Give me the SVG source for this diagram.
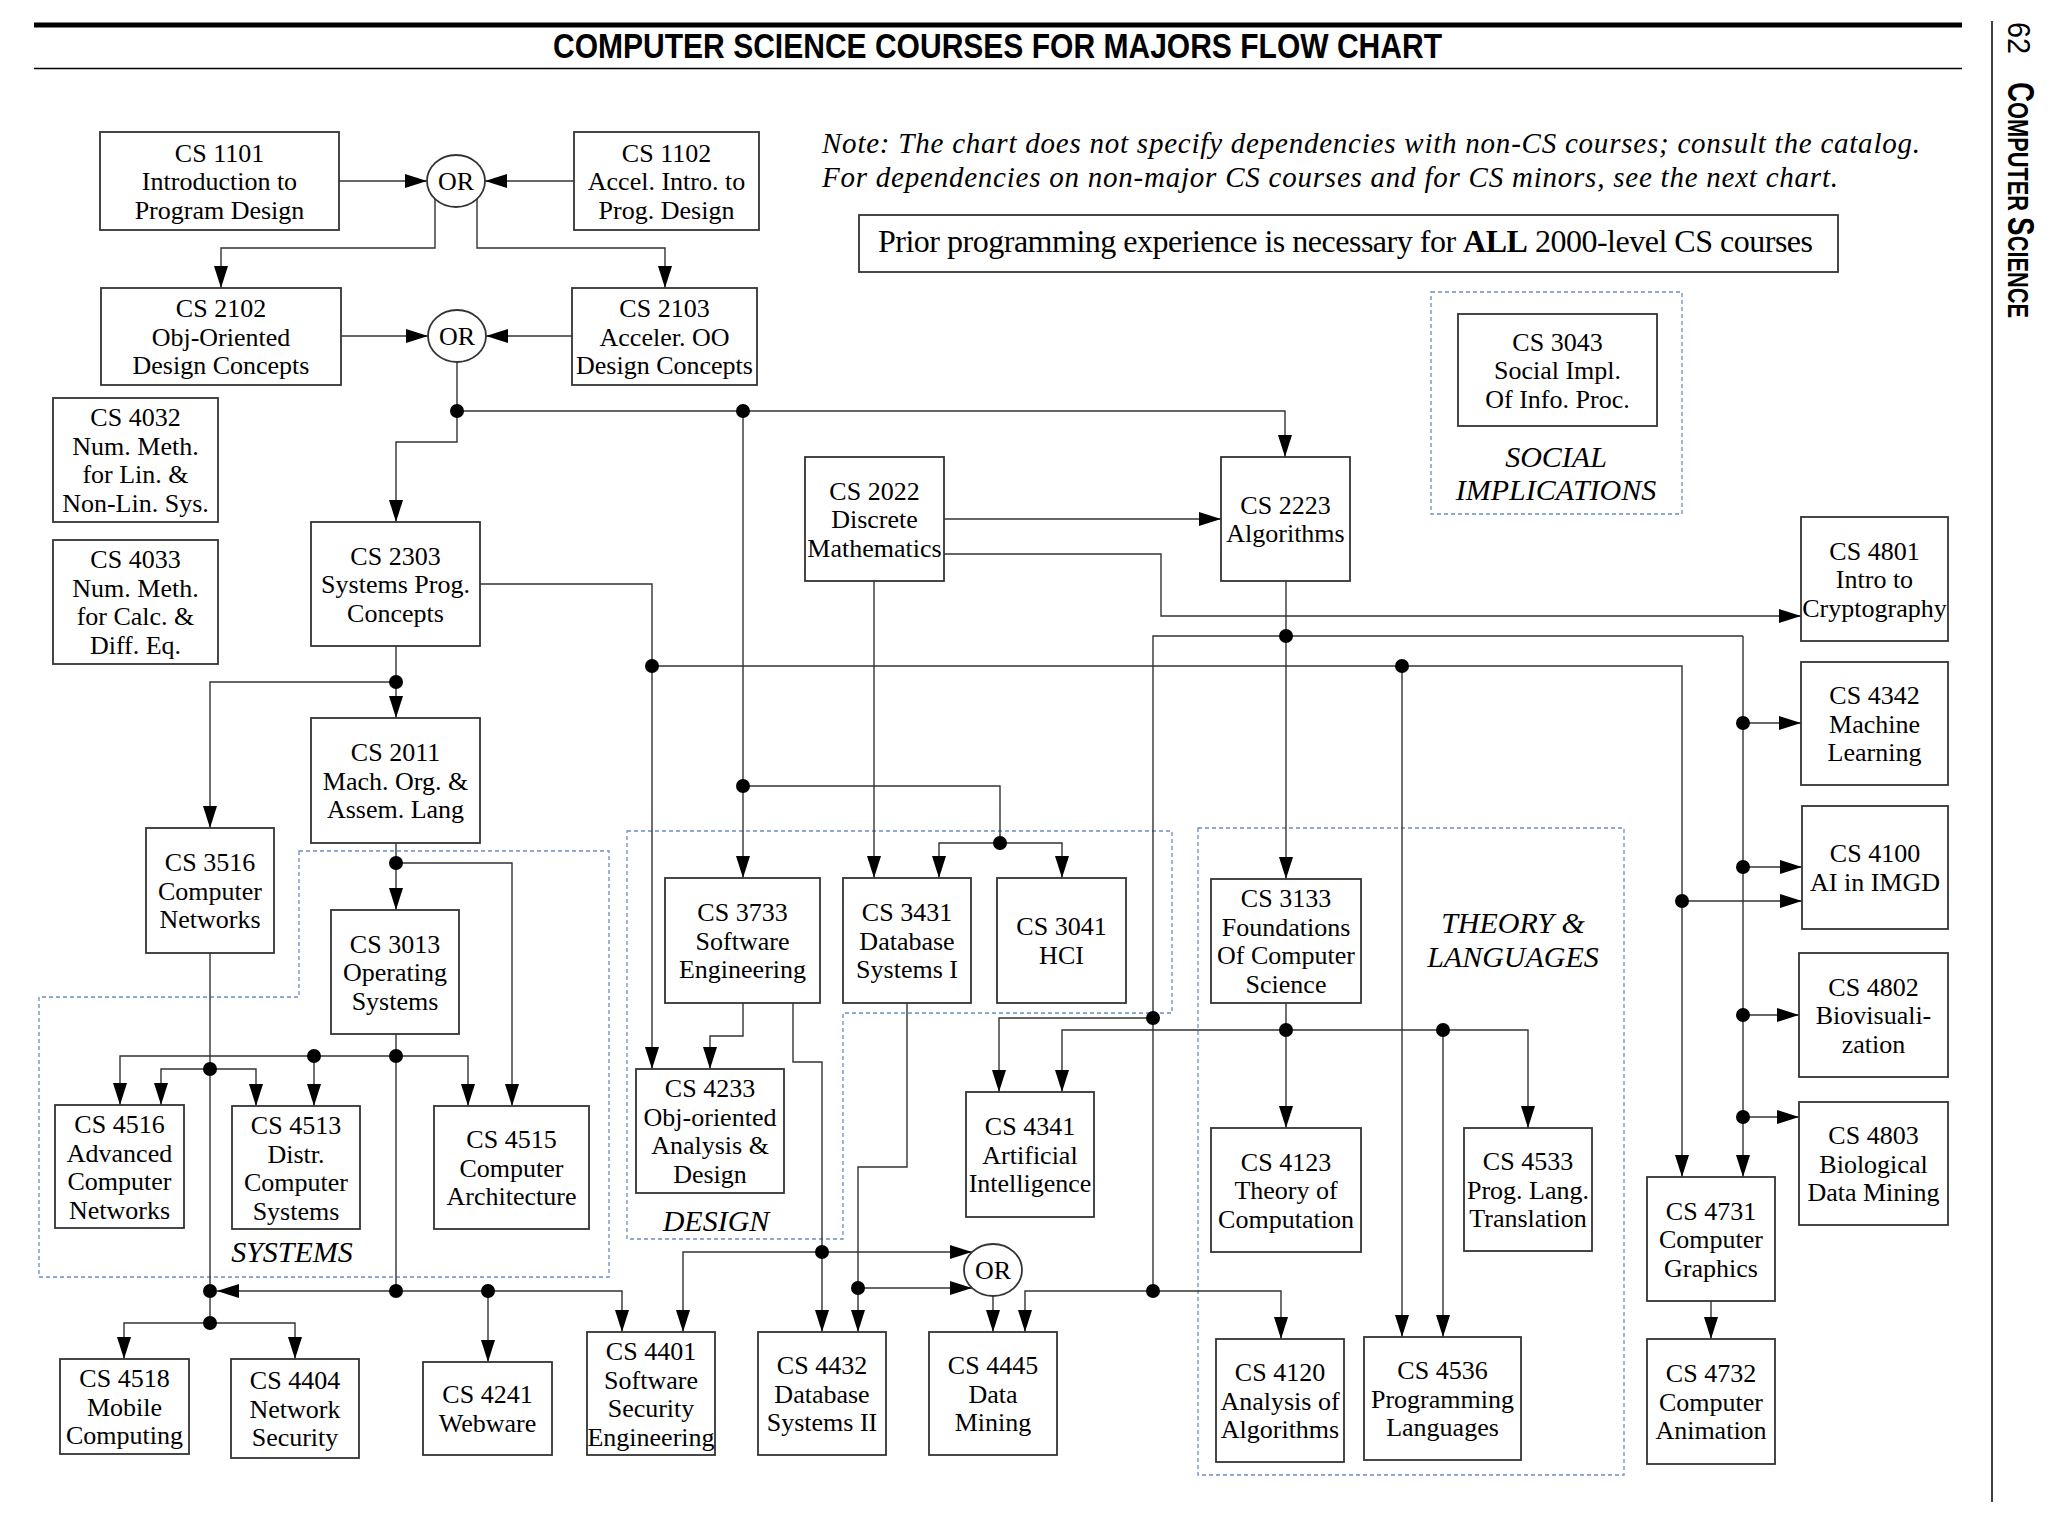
<svg xmlns="http://www.w3.org/2000/svg" width="2071" height="1522" viewBox="0 0 2071 1522">
<defs>
<marker id="ah" markerUnits="userSpaceOnUse" markerWidth="22" markerHeight="14" refX="22" refY="7" orient="auto"><path d="M0,0L22,7L0,14z" fill="#000"/></marker>
<style>
.box{fill:#fff;stroke:#333;stroke-width:1.8}
.t{font-family:"Liberation Serif","Times New Roman",serif;font-size:26px;text-anchor:middle;fill:#000}
.ln{fill:none;stroke:#333;stroke-width:1.4}
.ar{fill:none;stroke:#333;stroke-width:1.4;marker-end:url(#ah)}
.dot{fill:#000}
.reg{fill:none;stroke:#6b8fc4;stroke-width:1.3;stroke-dasharray:4 3}
.lbl{font-family:"Liberation Serif","Times New Roman",serif;font-size:30px;font-style:italic;text-anchor:middle;fill:#000}
.or{fill:#fff;stroke:#333;stroke-width:1.8}
</style>
</defs>
<rect width="2071" height="1522" fill="#fff"/>
<!-- header -->
<g id="header">
<rect x="34" y="22.5" width="1928" height="5" fill="#000"/>
<line x1="34" y1="68.5" x2="1962" y2="68.5" stroke="#000" stroke-width="1.4"/>
<text x="553" y="58" font-family="Liberation Sans,Arial,sans-serif" font-weight="bold" font-size="35" textLength="889" lengthAdjust="spacingAndGlyphs">COMPUTER SCIENCE COURSES FOR MAJORS FLOW CHART</text>
<line x1="1992" y1="21" x2="1992" y2="1502" stroke="#000" stroke-width="1.5"/>
<text transform="translate(2008,22) rotate(90)" font-family="Liberation Sans,Arial,sans-serif" font-size="32" textLength="32" lengthAdjust="spacingAndGlyphs">62</text>
<text transform="translate(2008,82) rotate(90)" font-family="Liberation Sans,Arial,sans-serif" font-weight="bold" textLength="236" lengthAdjust="spacingAndGlyphs"><tspan font-size="37">C</tspan><tspan font-size="29">OMPUTER </tspan><tspan font-size="37">S</tspan><tspan font-size="29">CIENCE</tspan></text>
</g>
<g id="notes">
<text x="822" y="153" font-family="Liberation Serif,Times New Roman,serif" font-style="italic" font-size="29" textLength="1098">Note: The chart does not specify dependencies with non-CS courses; consult the catalog.</text>
<text x="822" y="187" font-family="Liberation Serif,Times New Roman,serif" font-style="italic" font-size="29" textLength="1016">For dependencies on non-major CS courses and for CS minors, see the next chart.</text>
<rect x="859" y="215" width="979" height="57" class="box"/>
<text x="878" y="252" font-family="Liberation Serif,Times New Roman,serif" font-size="32" textLength="935">Prior programming experience is necessary for <tspan font-weight="bold">ALL</tspan> 2000-level CS courses</text>
</g>
<!-- regions -->
<g id="regions">
<rect x="1431" y="292" width="251" height="222" class="reg"/>
<polygon points="299,851 609,851 609,1277 39,1277 39,997 299,997" class="reg"/>
<polygon points="627,831 1172,831 1172,1013 843,1013 843,1239 627,1239" class="reg"/>
<rect x="1198" y="828" width="426" height="647" class="reg"/>
<text class="lbl" x="1556" y="467">SOCIAL</text>
<text class="lbl" x="1556" y="500">IMPLICATIONS</text>
<text class="lbl" x="292" y="1262">SYSTEMS</text>
<text class="lbl" x="716" y="1231">DESIGN</text>
<text class="lbl" x="1513" y="933">THEORY &amp;</text>
<text class="lbl" x="1513" y="967">LANGUAGES</text>
</g>
<!-- connectors -->
<g id="connectors">
<path class="ar" d="M339,181H427"/>
<path class="ar" d="M574,181H485"/>
<path class="ar" d="M435,199V248H221V288"/>
<path class="ar" d="M477,199V248H665V288"/>
<path class="ar" d="M341,336H428"/>
<path class="ar" d="M572,336H486"/>
<path class="ar" d="M457,362V442H396V522"/>
<path class="ar" d="M457,411H1285V457"/>
<path class="ar" d="M743,411V878"/>
<path class="ln" d="M743,786H1000V843"/>
<path class="ar" d="M1000,843H939V878"/>
<path class="ar" d="M1000,843H1062V878"/>
<path class="ar" d="M874,581V878"/>
<path class="ar" d="M944,519H1221"/>
<path class="ar" d="M944,554H1161V616H1801"/>
<path class="ar" d="M1286,581V879"/>
<path class="ln" d="M1153,1291V636H1743"/>
<path class="ar" d="M1743,636V1177"/>
<path class="ar" d="M1743,723H1801"/>
<path class="ar" d="M1743,867H1802"/>
<path class="ar" d="M1743,1015H1799"/>
<path class="ar" d="M1743,1117H1799"/>
<path class="ar" d="M480,584H652V1069"/>
<path class="ar" d="M652,666H1682V1177"/>
<path class="ar" d="M1682,901H1802"/>
<path class="ar" d="M1402,666V1337"/>
<path class="ar" d="M396,646V718"/>
<path class="ar" d="M396,682H210V828"/>
<path class="ar" d="M396,843V910"/>
<path class="ar" d="M396,863H512V1106"/>
<path class="ln" d="M396,1034V1291"/>
<path class="ar" d="M396,1056H120V1105"/>
<path class="ar" d="M396,1056H468V1106"/>
<path class="ar" d="M314,1056V1106"/>
<path class="ln" d="M210,953V1323"/>
<path class="ar" d="M210,1069H161V1105"/>
<path class="ar" d="M210,1069H256V1106"/>
<path class="ar" d="M396,1291H217"/>
<path class="ar" d="M396,1291H622V1332"/>
<path class="ar" d="M488,1291V1362"/>
<path class="ar" d="M210,1323H124V1359"/>
<path class="ar" d="M210,1323H295V1359"/>
<path class="ar" d="M743,1003V1036H710V1069"/>
<path class="ar" d="M793,1003V1062H822V1332"/>
<path class="ar" d="M822,1252H683V1332"/>
<path class="ar" d="M822,1252H972"/>
<path class="ar" d="M907,1003V1167H858V1332"/>
<path class="ar" d="M858,1288H972"/>
<path class="ar" d="M993,1296V1332"/>
<path class="ar" d="M1153,1291H1025V1332"/>
<path class="ar" d="M1153,1291H1281V1339"/>
<path class="ar" d="M1153,1018H999V1092"/>
<path class="ar" d="M1286,1003V1128"/>
<path class="ar" d="M1286,1030H1062V1092"/>
<path class="ar" d="M1286,1030H1528V1128"/>
<path class="ar" d="M1443,1030V1337"/>
<path class="ar" d="M1711,1301V1339"/>
<g class="dot">
<circle cx="457" cy="411" r="7"/><circle cx="743" cy="411" r="7"/><circle cx="743" cy="786" r="7"/><circle cx="1000" cy="843" r="7"/>
<circle cx="396" cy="682" r="7"/><circle cx="396" cy="863" r="7"/><circle cx="396" cy="1056" r="7"/><circle cx="314" cy="1056" r="7"/>
<circle cx="210" cy="1069" r="7"/><circle cx="210" cy="1291" r="7"/><circle cx="396" cy="1291" r="7"/><circle cx="488" cy="1291" r="7"/>
<circle cx="210" cy="1323" r="7"/><circle cx="652" cy="666" r="7"/><circle cx="1402" cy="666" r="7"/><circle cx="1286" cy="636" r="7"/>
<circle cx="1743" cy="723" r="7"/><circle cx="1743" cy="867" r="7"/><circle cx="1682" cy="901" r="7"/><circle cx="1743" cy="1015" r="7"/>
<circle cx="1743" cy="1117" r="7"/><circle cx="1153" cy="1018" r="7"/><circle cx="1286" cy="1030" r="7"/><circle cx="1443" cy="1030" r="7"/>
<circle cx="1153" cy="1291" r="7"/><circle cx="822" cy="1252" r="7"/><circle cx="858" cy="1288" r="7"/>
</g>
</g>
<!-- OR nodes -->
<g id="or1"><ellipse cx="456" cy="181" rx="29" ry="26" class="or"/><text class="t" x="456" y="190">OR</text></g>
<g id="or2"><ellipse cx="457" cy="336" rx="29" ry="26" class="or"/><text class="t" x="457" y="345">OR</text></g>
<g id="or3"><ellipse cx="993" cy="1270" rx="29" ry="26" class="or"/><text class="t" x="993" y="1279">OR</text></g>
<!-- course nodes -->
<g id="cs1101"><rect class="box" x="100" y="132" width="239" height="98"/><text class="t"><tspan x="219.5" y="161.5">CS 1101</tspan><tspan x="219.5" y="190">Introduction to</tspan><tspan x="219.5" y="218.5">Program Design</tspan></text></g>
<g id="cs1102"><rect class="box" x="574" y="132" width="185" height="98"/><text class="t"><tspan x="666.5" y="161.5">CS 1102</tspan><tspan x="666.5" y="190">Accel. Intro. to</tspan><tspan x="666.5" y="218.5">Prog. Design</tspan></text></g>
<g id="cs2102"><rect class="box" x="101" y="288" width="240" height="97"/><text class="t"><tspan x="221" y="317">CS 2102</tspan><tspan x="221" y="345.5">Obj-Oriented</tspan><tspan x="221" y="374">Design Concepts</tspan></text></g>
<g id="cs2103"><rect class="box" x="572" y="288" width="185" height="97"/><text class="t"><tspan x="664.5" y="317">CS 2103</tspan><tspan x="664.5" y="345.5">Acceler. OO</tspan><tspan x="664.5" y="374">Design Concepts</tspan></text></g>
<g id="cs4032"><rect class="box" x="53" y="398" width="165" height="124"/><text class="t"><tspan x="135.5" y="426.25">CS 4032</tspan><tspan x="135.5" y="454.75">Num. Meth.</tspan><tspan x="135.5" y="483.25">for Lin. &amp;</tspan><tspan x="135.5" y="511.75">Non-Lin. Sys.</tspan></text></g>
<g id="cs4033"><rect class="box" x="53" y="540" width="165" height="124"/><text class="t"><tspan x="135.5" y="568.25">CS 4033</tspan><tspan x="135.5" y="596.75">Num. Meth.</tspan><tspan x="135.5" y="625.25">for Calc. &amp;</tspan><tspan x="135.5" y="653.75">Diff. Eq.</tspan></text></g>
<g id="cs2303"><rect class="box" x="311" y="522" width="169" height="124"/><text class="t"><tspan x="395.5" y="564.5">CS 2303</tspan><tspan x="395.5" y="593">Systems Prog.</tspan><tspan x="395.5" y="621.5">Concepts</tspan></text></g>
<g id="cs2011"><rect class="box" x="311" y="718" width="169" height="125"/><text class="t"><tspan x="395.5" y="761">CS 2011</tspan><tspan x="395.5" y="789.5">Mach. Org. &amp;</tspan><tspan x="395.5" y="818">Assem. Lang</tspan></text></g>
<g id="cs3516"><rect class="box" x="146" y="828" width="128" height="125"/><text class="t"><tspan x="210" y="871">CS 3516</tspan><tspan x="210" y="899.5">Computer</tspan><tspan x="210" y="928">Networks</tspan></text></g>
<g id="cs3013"><rect class="box" x="331" y="910" width="128" height="124"/><text class="t"><tspan x="395" y="952.5">CS 3013</tspan><tspan x="395" y="981">Operating</tspan><tspan x="395" y="1009.5">Systems</tspan></text></g>
<g id="cs4516"><rect class="box" x="55" y="1105" width="129" height="123"/><text class="t"><tspan x="119.5" y="1133">CS 4516</tspan><tspan x="119.5" y="1161.5">Advanced</tspan><tspan x="119.5" y="1190">Computer</tspan><tspan x="119.5" y="1218.5">Networks</tspan></text></g>
<g id="cs4513"><rect class="box" x="232" y="1106" width="128" height="123"/><text class="t"><tspan x="296" y="1134">CS 4513</tspan><tspan x="296" y="1162.5">Distr.</tspan><tspan x="296" y="1191">Computer</tspan><tspan x="296" y="1219.5">Systems</tspan></text></g>
<g id="cs4515"><rect class="box" x="434" y="1106" width="155" height="123"/><text class="t"><tspan x="511.5" y="1148">CS 4515</tspan><tspan x="511.5" y="1176.5">Computer</tspan><tspan x="511.5" y="1205">Architecture</tspan></text></g>
<g id="cs4518"><rect class="box" x="60" y="1359" width="129" height="95"/><text class="t"><tspan x="124.5" y="1387">CS 4518</tspan><tspan x="124.5" y="1415.5">Mobile</tspan><tspan x="124.5" y="1444">Computing</tspan></text></g>
<g id="cs4404"><rect class="box" x="231" y="1359" width="128" height="99"/><text class="t"><tspan x="295" y="1389">CS 4404</tspan><tspan x="295" y="1417.5">Network</tspan><tspan x="295" y="1446">Security</tspan></text></g>
<g id="cs4241"><rect class="box" x="423" y="1362" width="129" height="93"/><text class="t"><tspan x="487.5" y="1403.25">CS 4241</tspan><tspan x="487.5" y="1431.75">Webware</tspan></text></g>
<g id="cs2022"><rect class="box" x="805" y="457" width="139" height="124"/><text class="t"><tspan x="874.5" y="499.5">CS 2022</tspan><tspan x="874.5" y="528">Discrete</tspan><tspan x="874.5" y="556.5">Mathematics</tspan></text></g>
<g id="cs2223"><rect class="box" x="1221" y="457" width="129" height="124"/><text class="t"><tspan x="1285.5" y="513.75">CS 2223</tspan><tspan x="1285.5" y="542.25">Algorithms</tspan></text></g>
<g id="cs3043"><rect class="box" x="1458" y="314" width="199" height="112"/><text class="t"><tspan x="1557.5" y="350.5">CS 3043</tspan><tspan x="1557.5" y="379">Social Impl.</tspan><tspan x="1557.5" y="407.5">Of Info. Proc.</tspan></text></g>
<g id="cs4801"><rect class="box" x="1801" y="517" width="147" height="124"/><text class="t"><tspan x="1874.5" y="559.5">CS 4801</tspan><tspan x="1874.5" y="588">Intro to</tspan><tspan x="1874.5" y="616.5">Cryptography</tspan></text></g>
<g id="cs4342"><rect class="box" x="1801" y="662" width="147" height="123"/><text class="t"><tspan x="1874.5" y="704">CS 4342</tspan><tspan x="1874.5" y="732.5">Machine</tspan><tspan x="1874.5" y="761">Learning</tspan></text></g>
<g id="cs4100"><rect class="box" x="1802" y="806" width="146" height="123"/><text class="t"><tspan x="1875" y="862.25">CS 4100</tspan><tspan x="1875" y="890.75">AI in IMGD</tspan></text></g>
<g id="cs4802"><rect class="box" x="1799" y="953" width="149" height="124"/><text class="t"><tspan x="1873.5" y="995.5">CS 4802</tspan><tspan x="1873.5" y="1024">Biovisuali-</tspan><tspan x="1873.5" y="1052.5">zation</tspan></text></g>
<g id="cs4803"><rect class="box" x="1799" y="1102" width="149" height="123"/><text class="t"><tspan x="1873.5" y="1144">CS 4803</tspan><tspan x="1873.5" y="1172.5">Biological</tspan><tspan x="1873.5" y="1201">Data Mining</tspan></text></g>
<g id="cs3733"><rect class="box" x="665" y="878" width="155" height="125"/><text class="t"><tspan x="742.5" y="921">CS 3733</tspan><tspan x="742.5" y="949.5">Software</tspan><tspan x="742.5" y="978">Engineering</tspan></text></g>
<g id="cs3431"><rect class="box" x="843" y="878" width="128" height="125"/><text class="t"><tspan x="907" y="921">CS 3431</tspan><tspan x="907" y="949.5">Database</tspan><tspan x="907" y="978">Systems I</tspan></text></g>
<g id="cs3041"><rect class="box" x="997" y="878" width="129" height="125"/><text class="t"><tspan x="1061.5" y="935.25">CS 3041</tspan><tspan x="1061.5" y="963.75">HCI</tspan></text></g>
<g id="cs3133"><rect class="box" x="1211" y="879" width="150" height="124"/><text class="t"><tspan x="1286" y="907.25">CS 3133</tspan><tspan x="1286" y="935.75">Foundations</tspan><tspan x="1286" y="964.25">Of Computer</tspan><tspan x="1286" y="992.75">Science</tspan></text></g>
<g id="cs4233"><rect class="box" x="636" y="1069" width="148" height="124"/><text class="t"><tspan x="710" y="1097.25">CS 4233</tspan><tspan x="710" y="1125.75">Obj-oriented</tspan><tspan x="710" y="1154.25">Analysis &amp;</tspan><tspan x="710" y="1182.75">Design</tspan></text></g>
<g id="cs4341"><rect class="box" x="966" y="1092" width="128" height="125"/><text class="t"><tspan x="1030" y="1135">CS 4341</tspan><tspan x="1030" y="1163.5">Artificial</tspan><tspan x="1030" y="1192">Intelligence</tspan></text></g>
<g id="cs4123"><rect class="box" x="1211" y="1128" width="150" height="124"/><text class="t"><tspan x="1286" y="1170.5">CS 4123</tspan><tspan x="1286" y="1199">Theory of</tspan><tspan x="1286" y="1227.5">Computation</tspan></text></g>
<g id="cs4533"><rect class="box" x="1464" y="1128" width="128" height="123"/><text class="t"><tspan x="1528" y="1170">CS 4533</tspan><tspan x="1528" y="1198.5">Prog. Lang.</tspan><tspan x="1528" y="1227">Translation</tspan></text></g>
<g id="cs4401"><rect class="box" x="587" y="1332" width="128" height="123"/><text class="t"><tspan x="651" y="1360">CS 4401</tspan><tspan x="651" y="1388.5">Software</tspan><tspan x="651" y="1417">Security</tspan><tspan x="651" y="1445.5">Engineering</tspan></text></g>
<g id="cs4432"><rect class="box" x="758" y="1332" width="128" height="123"/><text class="t"><tspan x="822" y="1374">CS 4432</tspan><tspan x="822" y="1402.5">Database</tspan><tspan x="822" y="1431">Systems II</tspan></text></g>
<g id="cs4445"><rect class="box" x="929" y="1332" width="128" height="123"/><text class="t"><tspan x="993" y="1374">CS 4445</tspan><tspan x="993" y="1402.5">Data</tspan><tspan x="993" y="1431">Mining</tspan></text></g>
<g id="cs4120"><rect class="box" x="1216" y="1339" width="128" height="123"/><text class="t"><tspan x="1280" y="1381">CS 4120</tspan><tspan x="1280" y="1409.5">Analysis of</tspan><tspan x="1280" y="1438">Algorithms</tspan></text></g>
<g id="cs4536"><rect class="box" x="1364" y="1337" width="157" height="123"/><text class="t"><tspan x="1442.5" y="1379">CS 4536</tspan><tspan x="1442.5" y="1407.5">Programming</tspan><tspan x="1442.5" y="1436">Languages</tspan></text></g>
<g id="cs4731"><rect class="box" x="1647" y="1177" width="128" height="124"/><text class="t"><tspan x="1711" y="1219.5">CS 4731</tspan><tspan x="1711" y="1248">Computer</tspan><tspan x="1711" y="1276.5">Graphics</tspan></text></g>
<g id="cs4732"><rect class="box" x="1647" y="1339" width="128" height="125"/><text class="t"><tspan x="1711" y="1382">CS 4732</tspan><tspan x="1711" y="1410.5">Computer</tspan><tspan x="1711" y="1439">Animation</tspan></text></g>
</svg>
